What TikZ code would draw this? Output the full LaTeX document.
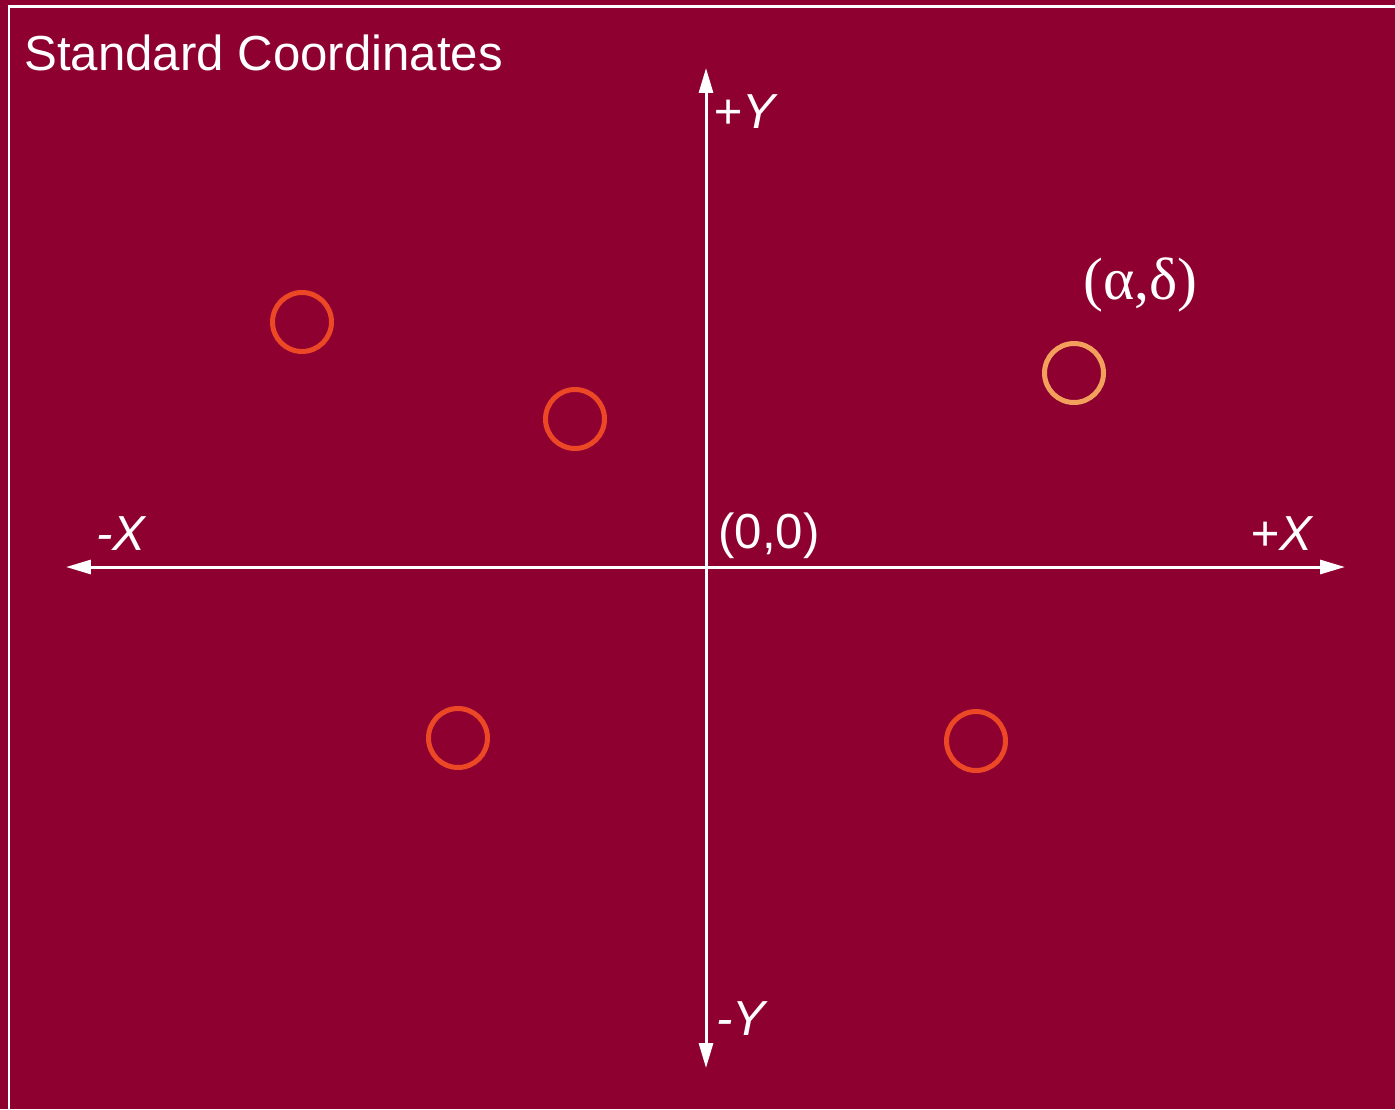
\documentclass[tikz,border=0pt]{standalone}
\usepackage{fontspec}
\setmainfont{Liberation Sans}
\newfontfamily\greekserif{Liberation Serif}
\usetikzlibrary{arrows.meta}

\definecolor{bgwine}{RGB}{142,0,48}
\definecolor{ringred}{RGB}{236,72,38}
\definecolor{ringgold}{RGB}{242,160,92}

\begin{document}
\begin{tikzpicture}[
  x=0.02cm, y=-0.02cm,
  ax/.style={draw=white, line width=0.06cm, -{Triangle[length=0.5cm, width=0.28cm]}},
  lbl/.style={text=white, inner sep=0pt, anchor=base west, font=\fontsize{28}{32}\selectfont},
  axlbl/.style={lbl, font=\fontsize{28}{32}\selectfont\itshape},
  ring/.style={circle, draw=ringred, line width=0.1cm, minimum size=1.18cm, inner sep=0pt},
  starring/.style={ring, draw=ringgold}
]
  % background and frame
  \fill[bgwine] (0,0) rectangle (1395,1109);
  \useasboundingbox (0,0) rectangle (1395,1109);
  \draw[white, line width=0.06cm] (9,1120) -- (9,6) -- (1410,6);

  \node[lbl] (title) at (24,70) {Standard Coordinates};

  % axes
  \coordinate (orig) at (706,567);
  \coordinate (xneg) at (66,567);
  \coordinate (xpos) at (1345,567);
  \coordinate (ypos) at (706,68);
  \coordinate (yneg) at (706,1068);
  \draw[ax] (orig) -- (xneg);
  \draw[ax] (orig) -- (xpos);
  \draw[ax] (orig) -- (ypos);
  \draw[ax] (orig) -- (yneg);

  \node[axlbl] (lypos) at (713,128) {+Y};
  \node[axlbl] (lyneg) at (716,1035) {-Y};
  \node[axlbl] (lxneg) at (96,550) {-X};
  \node[axlbl] (lxpos) at (1250,550) {+X};
  \node[lbl] (lorig) at (718,548) {(0,0)};

  % stars
  \node[ring] (s1) at (302,322) {};
  \node[ring] (s2) at (575,419) {};
  \node[ring] (s3) at (458,738) {};
  \node[ring] (s4) at (976,741) {};
  \node[starring] (s5) at (1074,373) {};
  \node[lbl, font=\fontsize{34}{38}\selectfont\greekserif] (lstar) at (1083,299) {(α,δ)};
\end{tikzpicture}
\end{document}
